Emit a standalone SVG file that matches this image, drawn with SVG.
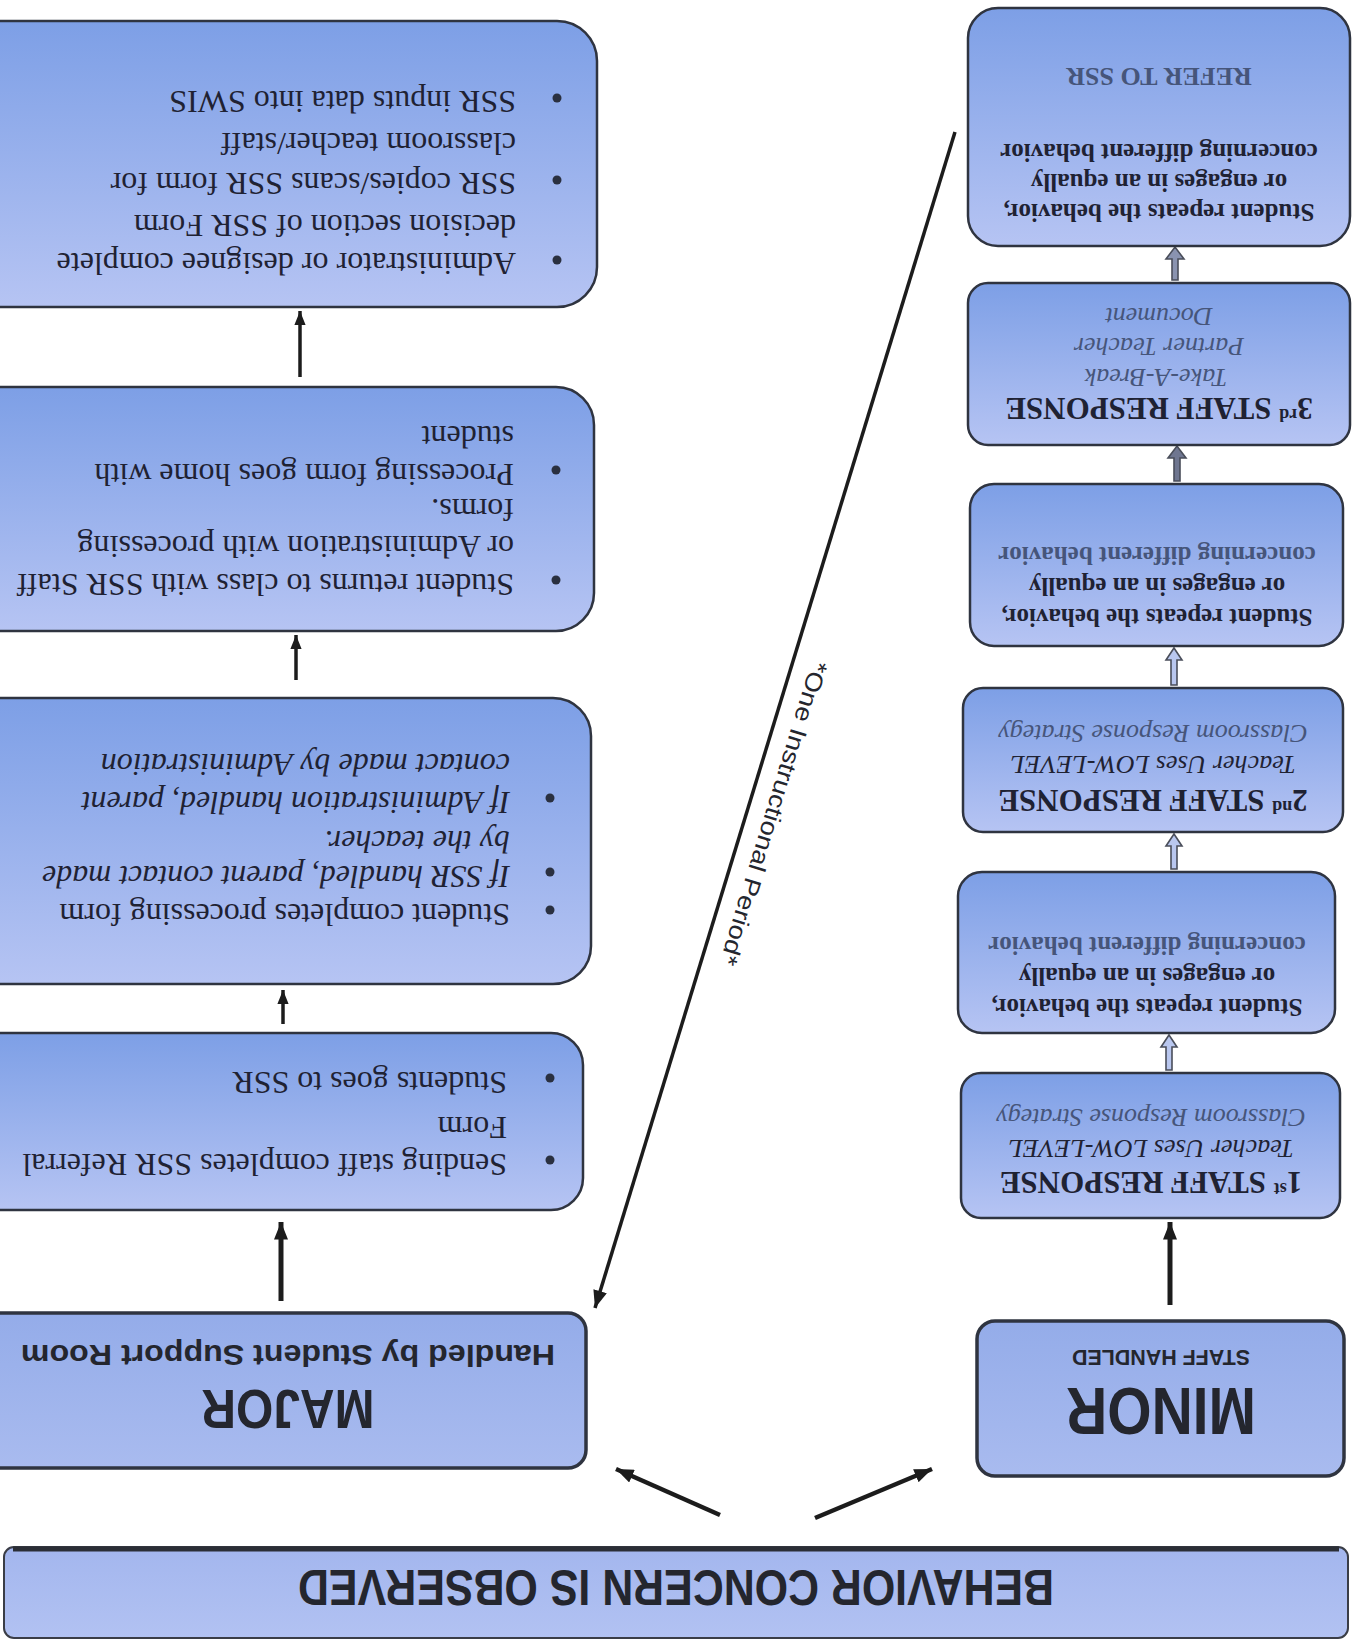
<svg xmlns="http://www.w3.org/2000/svg" width="1361" height="1642" viewBox="0 0 1361 1642">
<style>
.box{stroke:#2f3440;stroke-width:2.5;fill:url(#gb)}
.hbox{stroke:#2f3440;stroke-width:3.5;fill:url(#gh)}
.serif{font-family:"Liberation Serif","Times New Roman",serif;fill:#1f2233}
.sans{font-family:"Liberation Sans",Arial,sans-serif;fill:#24262e;font-weight:bold}
.b{font-weight:bold}
.i{font-style:italic}
.fade{fill:#46557a}
.t25{font-size:25px}
.t26{font-size:26px}
.t31{font-size:31px}
.t32{font-size:32px}
.bul{fill:#2a3040}
.ln{stroke:#1c1c1c;fill:none}
.hollow{fill:#b9c7ef;stroke:#4a4e5a;stroke-width:1.6}
</style>
<defs>
<linearGradient id="gb" x1="0" y1="0" x2="0" y2="1">
<stop offset="0" stop-color="#b6c4f3"/>
<stop offset="1" stop-color="#7d9fe6"/>
</linearGradient>
<linearGradient id="gh" x1="0" y1="0" x2="0" y2="1">
<stop offset="0" stop-color="#a9bbef"/>
<stop offset="1" stop-color="#94ace9"/>
</linearGradient>
<linearGradient id="gbanner" x1="0" y1="0" x2="0" y2="1">
<stop offset="0" stop-color="#b2c2f2"/>
<stop offset="1" stop-color="#a3b6ee"/>
</linearGradient>
<marker id="ah" viewBox="0 0 10 8" refX="10" refY="4" markerWidth="18" markerHeight="14" markerUnits="userSpaceOnUse" orient="auto">
<path d="M0,0 L10,4 L0,8 z" fill="#1c1c1c"/>
</marker>
<marker id="ahs" viewBox="0 0 10 8" refX="10" refY="4" markerWidth="14" markerHeight="12" markerUnits="userSpaceOnUse" orient="auto">
<path d="M0,0 L10,4 L0,8 z" fill="#1c1c1c"/>
</marker>
</defs>
<g transform="rotate(180 680.5 821)">
<g id="connectors">
<line class="ln" x1="641" y1="127" x2="745" y2="173" stroke-width="4.5" marker-end="url(#ah)"/>
<line class="ln" x1="546" y1="124" x2="429" y2="173" stroke-width="4.5" marker-end="url(#ah)"/>
<line class="ln" x1="406" y1="1510" x2="766" y2="334" stroke-width="3.5" marker-end="url(#ah)"/>
<line class="ln" x1="191" y1="337" x2="191" y2="420" stroke-width="5" marker-end="url(#ah)"/>
<polygon class="hollow" points="189,572 195,572 195,595 200,595 192,607 184,595 189,595"/>
<polygon class="hollow" points="184,773 190,773 190,796 195,796 187,808 179,796 184,796"/>
<polygon class="hollow" points="184,957 190,957 190,982 195,982 187,994 179,982 184,982"/>
<polygon class="hollow" points="181,1161 187,1161 187,1184 193,1184 184,1196 175,1184 181,1184" style="fill:#6f7690"/>
<polygon class="hollow" points="183,1362 189,1362 189,1383 195,1383 186,1395 177,1383 183,1383" style="fill:#8a93b0"/>
<line class="ln" x1="1080" y1="341" x2="1080" y2="420" stroke-width="5" marker-end="url(#ah)"/>
<line class="ln" x1="1078" y1="618" x2="1078" y2="652" stroke-width="3.5" marker-end="url(#ahs)"/>
<line class="ln" x1="1065" y1="962" x2="1065" y2="1007" stroke-width="3.5" marker-end="url(#ahs)"/>
<line class="ln" x1="1061" y1="1265" x2="1061" y2="1331" stroke-width="3.5" marker-end="url(#ahs)"/>
<text class="sans" font-weight="normal" font-size="24" x="548.8" y="982.7" textLength="317" lengthAdjust="spacingAndGlyphs" transform="rotate(-73.0 548.8 982.7)" style="font-weight:normal">*One Instructional Period*</text>
</g>
<g id="banner">
<rect x="13" y="4" width="1344" height="91" rx="10" fill="url(#gbanner)" stroke="#3a3d46" stroke-width="2"/>
<line x1="22" y1="93" x2="1348" y2="93" stroke="#2b2e36" stroke-width="5"/>
<text class="sans" x="685" y="72" font-size="50" text-anchor="middle" textLength="756" lengthAdjust="spacingAndGlyphs">BEHAVIOR CONCERN IS OBSERVED</text>
</g>
<g id="minor">
<rect class="hbox" x="17" y="166" width="367" height="155" rx="18"/>
<text class="sans" x="200" y="254" font-size="66" text-anchor="middle" textLength="190" lengthAdjust="spacingAndGlyphs">MINOR</text>
<text class="sans" x="200" y="292" font-size="22" text-anchor="middle" textLength="178" lengthAdjust="spacingAndGlyphs">STAFF HANDLED</text>
</g>
<g id="major">
<rect class="hbox" x="775" y="174" width="620" height="155" rx="18"/>
<text class="sans" x="1073" y="252" font-size="56" text-anchor="middle" textLength="173" lengthAdjust="spacingAndGlyphs">MAJOR</text>
<text class="sans" x="1073" y="297" font-size="29" text-anchor="middle" textLength="534" lengthAdjust="spacingAndGlyphs">Handled by Student Support Room</text>
</g>
<g id="staff1">
<rect class="box" x="21" y="424" width="379" height="145" rx="20"/>
<text class="serif b t31" x="210" y="470" text-anchor="middle">1<tspan font-size="18" dy="-11">st</tspan><tspan dy="11"> STAFF RESPONSE</tspan></text>
<text class="serif i t26" x="210" y="502" text-anchor="middle">Teacher Uses LOW-LEVEL</text>
<text class="serif i t26 fade" x="210" y="533" text-anchor="middle">Classroom Response Strategy</text>
</g>
<g id="repeat1">
<rect class="box" x="26" y="609" width="377" height="161" rx="24"/>
<text class="serif b t25" x="214" y="643" text-anchor="middle">Student repeats the behavior,</text>
<text class="serif b t25" x="214" y="674" text-anchor="middle">or engages in an equally</text>
<text class="serif b t25 fade" x="214" y="705" text-anchor="middle">concerning different behavior</text>
</g>
<g id="staff2">
<rect class="box" x="18" y="810" width="380" height="144" rx="20"/>
<text class="serif b t31" x="208" y="852" text-anchor="middle">2<tspan font-size="18" dy="-11">nd</tspan><tspan dy="11"> STAFF RESPONSE</tspan></text>
<text class="serif i t26" x="208" y="886" text-anchor="middle">Teacher Uses LOW-LEVEL</text>
<text class="serif i t26 fade" x="208" y="917" text-anchor="middle">Classroom Response Strategy</text>
</g>
<g id="repeat2">
<rect class="box" x="18" y="996" width="373" height="162" rx="24"/>
<text class="serif b t25" x="204" y="1033" text-anchor="middle">Student repeats the behavior,</text>
<text class="serif b t25" x="204" y="1064" text-anchor="middle">or engages in an equally</text>
<text class="serif b t25 fade" x="204" y="1095" text-anchor="middle">concerning different behavior</text>
</g>
<g id="staff3">
<rect class="box" x="11" y="1197" width="382" height="162" rx="20"/>
<text class="serif b t31" x="202" y="1244" text-anchor="middle">3<tspan font-size="18" dy="-11">rd</tspan><tspan dy="11"> STAFF RESPONSE</tspan></text>
<text class="serif i t26 fade" x="205" y="1273" text-anchor="middle">Take-A-Break</text>
<text class="serif i t26 fade" x="202" y="1304" text-anchor="middle">Partner Teacher</text>
<text class="serif i t26 fade" x="202" y="1334" text-anchor="middle">Document</text>
</g>
<g id="refer">
<rect class="box" x="11" y="1396" width="382" height="238" rx="30"/>
<text class="serif b t25" x="202" y="1438" text-anchor="middle">Student repeats the behavior,</text>
<text class="serif b t25" x="202" y="1468" text-anchor="middle">or engages in an equally</text>
<text class="serif b t25" x="202" y="1498" text-anchor="middle">concerning different behavior</text>
<text class="serif b t26 fade" x="202" y="1574" text-anchor="middle">REFER TO SSR</text>
</g>
<g id="sending">
<rect class="box" x="778" y="432" width="620" height="177" rx="32"/>
<circle class="bul" cx="811" cy="482" r="4.5"/>
<circle class="bul" cx="811" cy="564" r="4.5"/>
<text class="serif t32" x="854" y="488">Sending staff completes SSR Referral</text>
<text class="serif t32" x="854" y="525">Form</text>
<text class="serif t32" x="854" y="570">Students goes to SSR</text>
</g>
<g id="completes">
<rect class="box" x="770" y="658" width="630" height="286" rx="38"/>
<circle class="bul" cx="811" cy="732" r="4.5"/>
<circle class="bul" cx="811" cy="770" r="4.5"/>
<circle class="bul" cx="811" cy="844" r="4.5"/>
<text class="serif t32" x="851" y="738">Student completes processing form</text>
<text class="serif i t32" x="851" y="776">If SSR handled, parent contact made</text>
<text class="serif i t32" x="851" y="811">by the teacher.</text>
<text class="serif i t32" x="851" y="850">If Administration handled, parent</text>
<text class="serif i t32" x="851" y="888">contact made by Administration</text>
</g>
<g id="returns">
<rect class="box" x="767" y="1011" width="630" height="244" rx="38"/>
<circle class="bul" cx="805" cy="1062" r="4.5"/>
<circle class="bul" cx="805" cy="1172" r="4.5"/>
<text class="serif t32" x="847" y="1068">Student returns to class with SSR Staff</text>
<text class="serif t32" x="847" y="1106">or Administration with processing</text>
<text class="serif t32" x="847" y="1143">forms.</text>
<text class="serif t32" x="847" y="1178">Processing form goes home with</text>
<text class="serif t32" x="847" y="1216">student</text>
</g>
<g id="admin">
<rect class="box" x="764" y="1335" width="640" height="286" rx="40"/>
<circle class="bul" cx="804" cy="1382" r="4.5"/>
<circle class="bul" cx="804" cy="1462" r="4.5"/>
<circle class="bul" cx="804" cy="1544" r="4.5"/>
<text class="serif t32" x="845" y="1389">Administrator or designee complete</text>
<text class="serif t32" x="845" y="1427">decision section of SSR Form</text>
<text class="serif t32" x="845" y="1469">SSR copies/scans SSR form for</text>
<text class="serif t32" x="845" y="1509">classroom teacher/staff</text>
<text class="serif t32" x="845" y="1551">SSR inputs data into SWIS</text>
</g>
</g>
</svg>
